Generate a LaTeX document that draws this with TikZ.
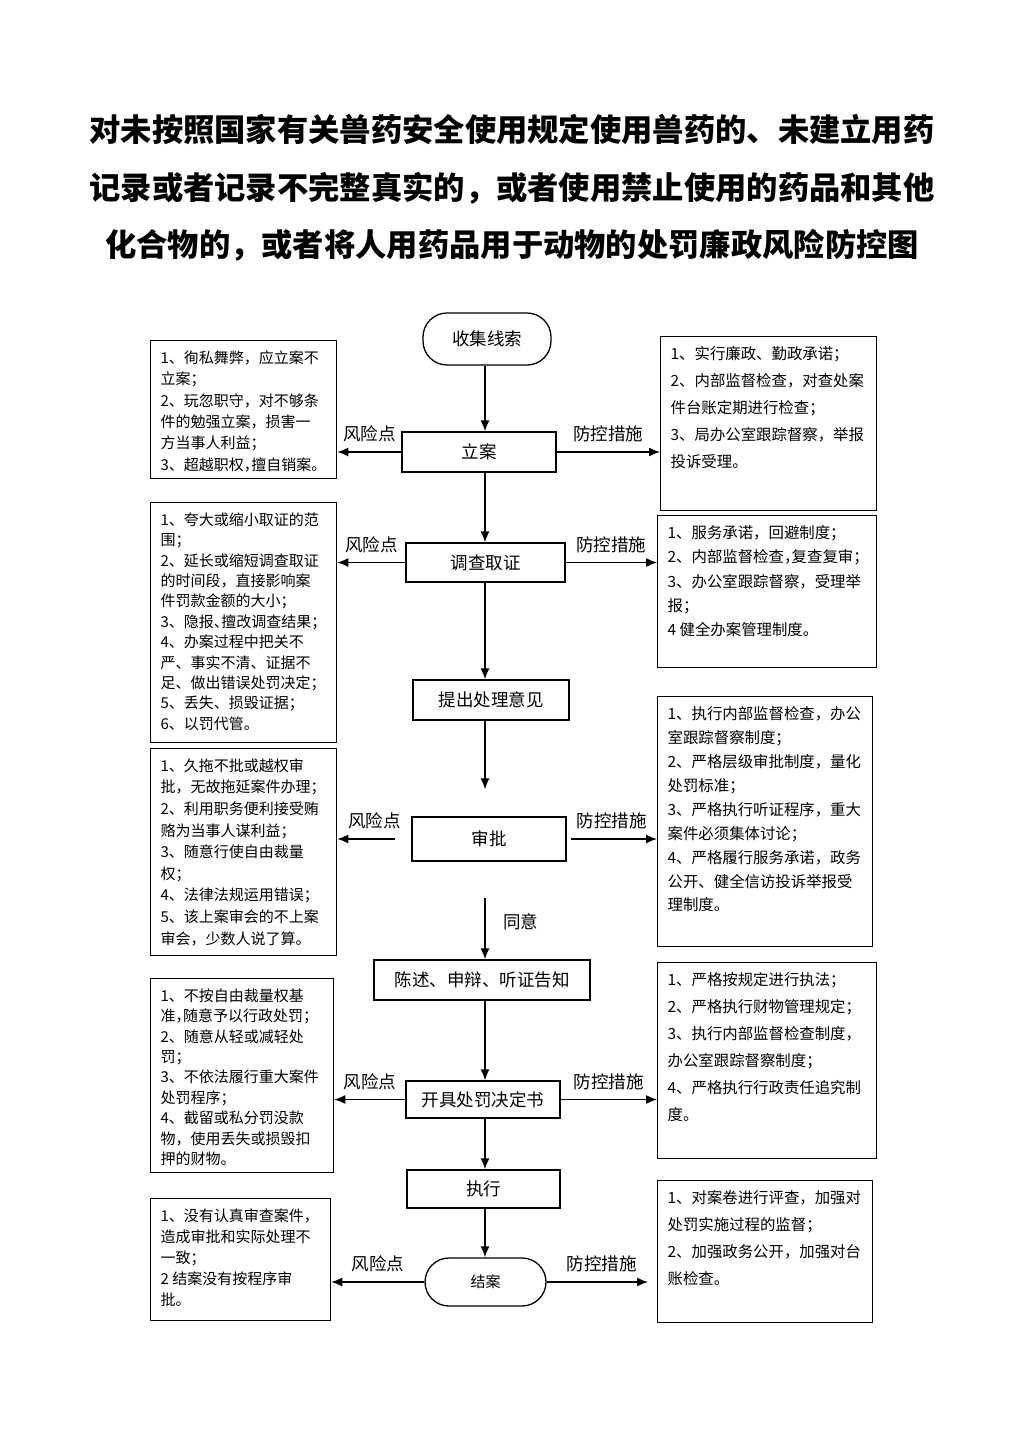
\documentclass[tikz,border=0pt]{standalone}
\usepackage{fontspec}
\setmainfont{Noto Sans CJK SC}
\usetikzlibrary{arrows.meta}

\newcommand{\boxtext}[4]{\parbox[t][#1][t]{#2}{\raggedright\baselineskip=#3 #4}}
\newcommand{\hw}[1]{{\addfontfeature{RawFeature=+halt}#1}}

\tikzset{
  stagebox/.style={draw, line width=1.3pt, minimum height=40pt, inner sep=0pt,
    font=\fontsize{17.5}{20}\selectfont},
  endbox/.style={stagebox, rounded corners=24pt},
  sidebox/.style={draw, line width=1.3pt, anchor=north west, inner xsep=10pt, inner ysep=10pt},
  riskbox/.style={sidebox, font=\fontsize{15}{21}\selectfont},
  guardbox/.style={sidebox, font=\fontsize{15.4}{24}\selectfont},
  arrow/.style={line width=1.4pt, -{Latex[length=11pt,width=9pt]}},
  tag/.style={above, yshift=6pt, font=\fontsize{17.5}{20}\selectfont}
}

\begin{document}
\begin{tikzpicture}[x=1pt,y=-1pt]

\useasboundingbox[fill=white] (0,0) rectangle (1024,1448);

\node[font=\bfseries\fontsize{31.3}{57.5}\selectfont, align=center] (title) at (512,188)
  {对未按照国家有关兽药安全使用规定使用兽药的、未建立用药\\
   记录或者记录不完整真实的，或者使用禁止使用的药品和其他\\
   化合物的，或者将人用药品用于动物的处罚廉政风险防控图};

\coordinate (c) at (485,0);

% steps
\node[endbox, minimum width=128pt, minimum height=52pt] (collect) at (487,339) {收集线索};
\node[stagebox, minimum width=154pt] (file) at (479,452) {立案};
\node[stagebox, minimum width=159pt, minimum height=39pt] (survey) at (485.5,562.5) {调查取证};
\node[stagebox, minimum width=156pt] (propose) at (491,700) {提出处理意见};
\node[stagebox, minimum width=154pt, minimum height=44pt] (approve) at (489,839) {审批};
\node[stagebox, minimum width=216pt] (notify) at (482,980) {陈述、申辩、听证告知};
\node[stagebox, minimum width=154pt, minimum height=37pt] (decide) at (483,1099.5) {开具处罚决定书};
\node[stagebox, minimum width=153pt, minimum height=38pt] (execute) at (483.5,1189) {执行};
\node[endbox, minimum width=121pt, minimum height=48pt, font=\fontsize{15}{18}\selectfont] (close) at (485.5,1282) {结案};

% risk points
\node[riskbox] (risk1) at (150,340) {\boxtext{118pt}{166pt}{21.4pt}{%
  1、徇私舞弊，应立案不\\立案；\\2、玩忽职守，对不够条\\件的勉强立案，损害一\\方当事人利益；\\3、超越职权\hw{，}擅自销案。}};
\node[riskbox] (risk2) at (150,502) {\boxtext{220pt}{166pt}{20.4pt}{%
  1、夸大或缩小取证的范\\围；\\2、延长或缩短调查取证\\的时间段，直接影响案\\件罚款金额的大小；\\3、隐报\hw{、}擅改调查结果；\\4、办案过程中把关不\\严、事实不清、证据不\\足、做出错误处罚决定；\\5、丢失、损毁证据；\\6、以罚代管。}};
\node[riskbox] (risk3) at (150,748) {\boxtext{187pt}{166pt}{21.6pt}{%
  1、久拖不批或越权审\\批，无故拖延案件办理；\\2、利用职务便利接受贿\\赂为当事人谋利益；\\3、随意行使自由裁量\\权；\\4、法律法规运用错误；\\5、该上案审会的不上案\\审会，少数人说了算。}};
\node[riskbox] (risk4) at (150,978) {\boxtext{174pt}{163pt}{20.4pt}{%
  1、不按自由裁量权基\\准\hw{，}随意予以行政处罚；\\2、随意从轻或减轻处\\罚；\\3、不依法履行重大案件\\处罚程序；\\4、截留或私分罚没款\\物，使用丢失或损毁扣\\押的财物。}};
\node[riskbox] (risk5) at (150,1198) {\boxtext{102pt}{160pt}{21pt}{%
  1、没有认真审查案件，\\造成审批和实际处理不\\一致；\\2 结案没有按程序审\\批。}};

% measures
\node[guardbox] (guard1) at (660,336) {\boxtext{154pt}{196pt}{27pt}{%
  1、实行廉政、勤政承诺；\\2、内部监督检查，对查处案\\件台账定期进行检查；\\3、局办公室跟踪督察，举报\\投诉受理。}};
\node[guardbox] (guard2) at (657,515) {\boxtext{132pt}{199pt}{24.3pt}{%
  1、服务承诺，回避制度；\\2、内部监督检查\hw{，}复查复审\hw{；}\\3、办公室跟踪督察，受理举\\报；\\4 健全办案管理制度。}};
\node[guardbox] (guard3) at (657,696) {\boxtext{230pt}{195pt}{23.9pt}{%
  1、执行内部监督检查，办公\\室跟踪督察制度；\\2、严格层级审批制度，量化\\处罚标准；\\3、严格执行听证程序，重大\\案件必须集体讨论；\\4、严格履行服务承诺，政务\\公开、健全信访投诉举报受\\理制度。}};
\node[guardbox] (guard4) at (657,962) {\boxtext{176pt}{199pt}{27pt}{%
  1、严格按规定进行执法；\\2、严格执行财物管理规定；\\3、执行内部监督检查制度，\\办公室跟踪督察制度；\\4、严格执行行政责任追究制\\度。}};
\node[guardbox] (guard5) at (657,1180) {\boxtext{122pt}{195pt}{27pt}{%
  1、对案卷进行评查，加强对\\处罚实施过程的监督；\\2、加强政务公开，加强对台\\账检查。}};

% main flow
\foreach \a/\b in {collect/file, file/survey, survey/propose, notify/decide, decide/execute, execute/close}
  \draw[arrow] (\a.south -| c) -- (\b.north -| c);
\draw[arrow, shorten >=27pt] (propose.south -| c) -- (approve.north -| c);
\draw[arrow, shorten <=36pt] (approve.south -| c) -- node[pos=0.62, right=14pt, font=\fontsize{17.5}{20}\selectfont] (agree) {同意} (notify.north -| c);

% side arrows
\foreach \s/\r/\g in {file/risk1/guard1, survey/risk2/guard2, decide/risk4/guard4} {
  \draw[arrow] (\s.west) -- node[tag] {风险点} (\s.west -| \r.east);
  \draw[arrow] (\s.east) -- node[tag] {防控措施} (\s.east -| \g.west);
}
\draw[arrow, shorten <=16pt] (approve.west) -- node[tag] {风险点} (approve.west -| risk3.east);
\draw[arrow, shorten <=4pt] (approve.east) -- node[tag] {防控措施} (approve.east -| guard3.west);
\draw[arrow] (close.west) -- node[tag] {风险点} (close.west -| risk5.east);
\draw[arrow, shorten >=9pt] (close.east) -- node[tag] {防控措施} (close.east -| guard5.west);

\end{tikzpicture}
\end{document}
